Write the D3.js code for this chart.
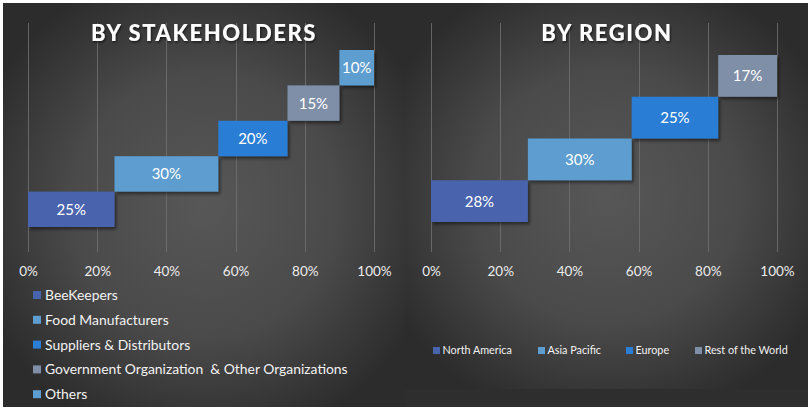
<!DOCTYPE html>
<html><head><meta charset="utf-8">
<script src="https://cdn.jsdelivr.net/npm/d3@7"></script>
<style>html,body{margin:0;padding:0;background:#fff;}svg{display:block;}</style>
</head><body>
<svg id="chart" width="812" height="413"></svg>
<script>
// ---- data ----
const stakeCategories = ["BeeKeepers", "Food Manufacturers", "Suppliers & Distributors", "Government Organization  & Other Organizations", "Others"];
const stakeValues = [25, 30, 20, 15, 10];
const stakeColors = ["#4864ad", "#5d9dcf", "#2c7dd4", "#7f8fa8", "#5d9dcf"];

const regionCategories = ["North America", "Asia Pacific", "Europe", "Rest of the World"];
const regionValues = [28, 30, 25, 17];
const regionColors = ["#4864ad", "#5d9dcf", "#2c7dd4", "#7f8fa8"];

const tickValues = [0, 20, 40, 60, 80, 100];
const tickLabels = ["0%", "20%", "40%", "60%", "80%", "100%"];

const svg = d3.select("#chart");
const defs = svg.append("defs");

function radial(id) {
  const g = defs.append("radialGradient").attr("id", id).attr("cx", "50%").attr("cy", "50%").attr("r", "60%");
  g.append("stop").attr("offset", "0%").attr("stop-color", "#575757");
  g.append("stop").attr("offset", "55%").attr("stop-color", "#4a4a4a");
  g.append("stop").attr("offset", "100%").attr("stop-color", "#2c2c2c");
}
radial("bgL"); radial("bgR");

const sh = defs.append("filter").attr("id", "shadow").attr("x", "-20%").attr("y", "-20%").attr("width", "150%").attr("height", "150%");
sh.append("feDropShadow").attr("dx", 2).attr("dy", 2.5).attr("stdDeviation", 1.5).attr("flood-color", "#000").attr("flood-opacity", 0.45);
const tsh = defs.append("filter").attr("id", "tshadow").attr("x", "-10%").attr("y", "-30%").attr("width", "130%").attr("height", "170%");
tsh.append("feDropShadow").attr("dx", 1).attr("dy", 1.5).attr("stdDeviation", 1).attr("flood-color", "#000").attr("flood-opacity", 0.6);

// background panels
svg.append("rect").attr("x", 3).attr("y", 3).attr("width", 805).attr("height", 404).attr("fill", "#2e2e2e");
svg.append("rect").attr("x", 3).attr("y", 3).attr("width", 402).attr("height", 404).attr("fill", "url(#bgL)");
svg.append("rect").attr("x", 405).attr("y", 3).attr("width", 403).attr("height", 386).attr("fill", "url(#bgR)");

function drawPanel(opts) {
  const { cats, vals, colors, xRange, yRange, title, titleX } = opts;
  const g = svg.append("g");
  const x = d3.scaleLinear().domain([0, 100]).range(xRange);
  const y = d3.scaleBand().domain(cats).range(yRange).paddingInner(0).paddingOuter(0);

  // gridlines
  g.append("g").selectAll("line").data(tickValues).join("line")
    .attr("x1", d => Math.round(x(d)) + 0.5).attr("x2", d => Math.round(x(d)) + 0.5)
    .attr("y1", 23).attr("y2", 252)
    .attr("stroke", "#727272").attr("stroke-width", 1).attr("stroke-opacity", 0.8);

  // axis labels
  const axis = d3.axisBottom(x).tickValues(tickValues).tickFormat((d, i) => tickLabels[i]).tickSize(0).tickPadding(0);
  const ax = g.append("g").attr("transform", "translate(0,266)").call(axis);
  ax.select(".domain").remove();
  ax.selectAll("text").attr("fill", "#ececec").attr("font-family", "Lato, 'Open Sans', sans-serif").attr("font-size", 13.5).attr("dy", "0.72em");

  // title
  g.append("text").attr("x", titleX).attr("y", 41).attr("text-anchor", "middle")
    .attr("font-family", "Lato, 'Open Sans', sans-serif").attr("font-weight", 900).attr("font-size", 22)
    .attr("letter-spacing", 1.6).attr("fill", "#fff").attr("filter", "url(#tshadow)").text(title);

  // bars (waterfall style)
  const starts = [];
  let acc = 0;
  vals.forEach(v => { starts.push(acc); acc += v; });
  const bars = g.append("g").selectAll("g").data(cats).join("g");
  bars.append("rect")
    .attr("x", (d, i) => x(starts[i])).attr("y", d => y(d))
    .attr("width", (d, i) => x(starts[i] + vals[i]) - x(starts[i])).attr("height", y.bandwidth())
    .attr("fill", (d, i) => colors[i]).attr("filter", "url(#shadow)");
  bars.append("text")
    .attr("x", (d, i) => x(starts[i] + vals[i] / 2)).attr("y", d => y(d) + y.bandwidth() / 2)
    .attr("dy", "0.36em").attr("text-anchor", "middle")
    .attr("font-family", "Lato, 'Open Sans', sans-serif").attr("font-size", 15)
    .attr("fill", "#fff").text((d, i) => vals[i] + "%");
  return { g, x, y };
}

drawPanel({ cats: stakeCategories, vals: stakeValues, colors: stakeColors, xRange: [28, 374], yRange: [227, 50], title: "BY STAKEHOLDERS", titleX: 204 });
drawPanel({ cats: regionCategories, vals: regionValues, colors: regionColors, xRange: [431, 777], yRange: [222, 55], title: "BY REGION", titleX: 607 });

// left legend (vertical)
const legL = svg.append("g").selectAll("g").data(stakeCategories).join("g")
  .attr("transform", (d, i) => `translate(33,${295 + i * 24.8})`);
legL.append("rect").attr("x", 0).attr("y", -4).attr("width", 8).attr("height", 8).attr("fill", (d, i) => stakeColors[i]);
legL.append("text").attr("x", 12).attr("y", 0).attr("dy", "0.36em")
  .attr("font-family", "Lato, 'Open Sans', sans-serif").attr("font-size", 13.9).attr("fill", "#f2f2f2")
  .style("white-space", "pre").text(d => d);

// right legend (horizontal)
const legRX = [433, 538, 626, 695];
const legR = svg.append("g").selectAll("g").data(regionCategories).join("g")
  .attr("transform", (d, i) => `translate(${legRX[i]},350.5)`);
legR.append("rect").attr("x", 0).attr("y", -3.5).attr("width", 7).attr("height", 7).attr("fill", (d, i) => regionColors[i]);
legR.append("text").attr("x", 9.5).attr("y", 0).attr("dy", "0.36em")
  .attr("font-family", "Lato, 'Open Sans', sans-serif").attr("font-size", 10.8).attr("fill", "#f2f2f2")
  .text(d => d);
</script>
</body></html>
